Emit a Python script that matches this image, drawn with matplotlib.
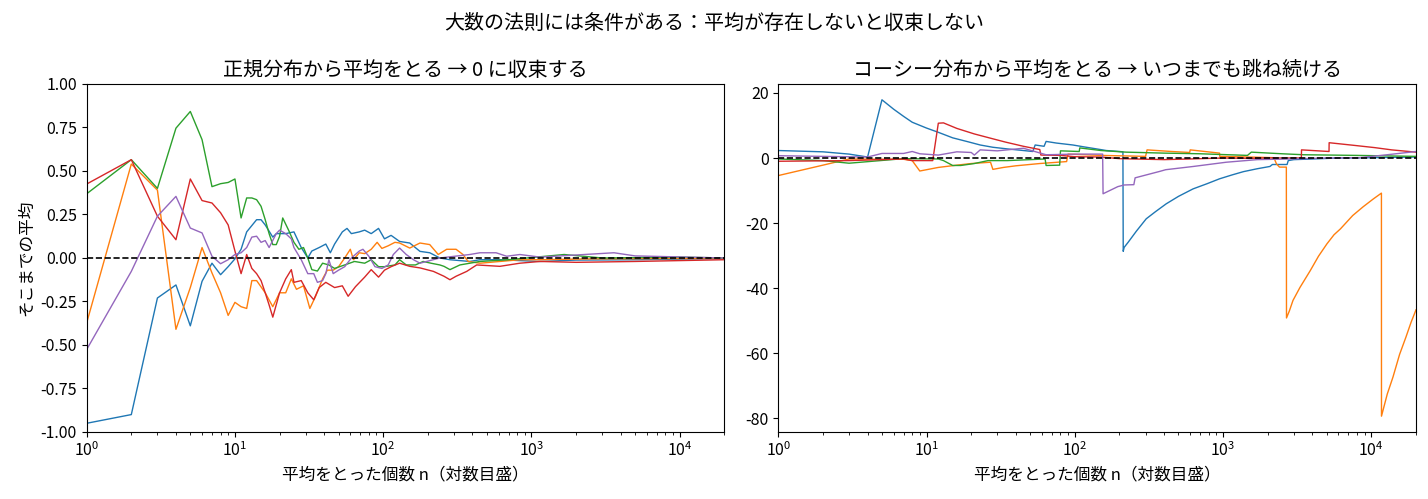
import matplotlib
matplotlib.use("Agg")
import matplotlib.pyplot as plt

plt.rcParams['font.family'] = ['Noto Sans CJK JP', 'DejaVu Sans']
plt.rcParams['axes.unicode_minus'] = False

# 正規分布：そこまでの平均
norm_blue_n = [1, 2, 3, 4, 5, 6, 7, 8, 9, 10, 11, 12, 14, 15, 16, 18, 19, 22, 25, 28, 31, 33, 37, 41,
               44, 47, 53, 57, 61, 69, 75, 83, 93, 102, 113, 129, 151, 177, 206, 241, 282, 384, 449,
               612, 1140, 2000, 5380, 20000]
norm_blue = [-0.95, -0.90, -0.23, -0.155, -0.39, -0.134, -0.03, -0.096, -0.05, -0.005, 0.05, 0.15,
             0.22, 0.22, 0.19, 0.12, 0.14, 0.14, 0.15, 0.06, 0.0, 0.04, 0.06, 0.08, 0.03, 0.08, 0.15,
             0.17, 0.14, 0.15, 0.16, 0.14, 0.17, 0.11, 0.13, 0.095, 0.086, 0.038, 0.03, 0.0, -0.01,
             -0.02, -0.01, -0.01, -0.02, -0.012, -0.01, -0.003]

norm_orange_n = [1, 2, 3, 4, 5, 6, 7, 8, 9, 10, 11, 12, 13, 14, 16, 18, 20, 22, 24, 26, 29, 32, 35,
                 39, 42, 46, 50, 55, 60, 63, 69, 75, 83, 91, 98, 108, 120, 129, 151, 177, 206, 235,
                 268, 310, 345, 374, 449, 612, 835, 1140, 2500, 20000]
norm_orange = [-0.373, 0.54, 0.39, -0.41, -0.17, 0.06, -0.086, -0.2, -0.33, -0.255, -0.28, -0.29,
               -0.13, -0.13, -0.2, -0.28, -0.2, -0.2, -0.12, -0.18, -0.16, -0.29, -0.22, -0.12, -0.07,
               -0.07, -0.05, 0.0, 0.05, -0.01, 0.03, 0.025, 0.05, 0.09, 0.055, 0.07, 0.09, 0.086,
               0.057, 0.086, 0.077, 0.02, 0.05, 0.05, 0.02, -0.02, -0.03, -0.02, -0.01, -0.01,
               -0.005, -0.002]

norm_green_n = [1, 2, 3, 4, 5, 6, 7, 8, 9, 10, 11, 12, 13, 14, 15, 16, 17, 18, 19, 20, 21, 23, 25,
                27, 29, 31, 33, 36, 39, 43, 47, 55, 64, 75, 83, 93, 102, 120, 129, 143, 165, 186,
                210, 241, 257, 282, 329, 449, 700, 1660, 3000, 10000, 20000]
norm_green = [0.369, 0.565, 0.40, 0.746, 0.842, 0.68, 0.41, 0.427, 0.434, 0.454, 0.23, 0.345, 0.345,
              0.335, 0.297, 0.22, 0.14, 0.077, 0.077, 0.124, 0.23, 0.16, 0.09, 0.05, 0.06, 0.0,
              -0.067, -0.075, -0.03, -0.04, -0.06, -0.04, -0.02, -0.03, -0.01, -0.05, -0.05, -0.04,
              -0.01, -0.04, -0.04, -0.02, -0.03, -0.04, -0.048, -0.067, -0.04, -0.02, -0.01, 0.02,
              0.0, 0.005, 0.0]

norm_red_n = [1, 2, 3, 4, 5, 6, 7, 8, 9, 10, 11, 12, 13, 14, 15, 16, 17, 18, 20, 22, 24, 25, 28, 31,
              34, 37, 41, 47, 53, 58, 65, 75, 83, 93, 102, 113, 129, 151, 177, 218, 257, 282, 310,
              366, 427, 612, 835, 1140, 2000, 5000, 20000]
norm_red = [0.425, 0.565, 0.24, 0.105, 0.454, 0.33, 0.316, 0.26, 0.19, 0.04, -0.09, 0.02, -0.06,
            -0.09, -0.13, -0.2, -0.27, -0.34, -0.2, -0.12, -0.067, -0.14, -0.13, -0.2, -0.24, -0.17,
            -0.14, -0.17, -0.16, -0.22, -0.165, -0.11, -0.067, -0.11, -0.07, -0.05, -0.03, -0.048,
            -0.057, -0.077, -0.105, -0.125, -0.105, -0.077, -0.04, -0.048, -0.03, -0.02, -0.025,
            -0.02, -0.01]

norm_purple_n = [1, 2, 3, 4, 5, 6, 7, 8, 9, 10, 11, 12, 13, 14, 15, 16, 17, 19, 20, 22, 24, 25, 28,
                 31, 34, 36, 39, 41, 43, 46, 50, 55, 61, 69, 73, 80, 88, 98, 108, 117, 129, 143,
                 160, 177, 241, 384, 449, 577, 680, 835, 1140, 3600, 5000, 20000]
norm_purple = [-0.526, -0.077, 0.24, 0.354, 0.172, 0.144, 0.01, -0.033, -0.01, 0.02, 0.03, 0.06,
               0.12, 0.125, 0.09, 0.1, 0.06, 0.14, 0.16, 0.14, 0.11, 0.06, -0.01, -0.09, -0.09,
               -0.14, -0.13, -0.09, -0.01, -0.09, -0.07, -0.05, 0.0, 0.04, 0.05, 0.01, -0.05, -0.06,
               -0.04, 0.02, 0.057, 0.02, -0.01, -0.03, 0.0, 0.02, 0.03, 0.03, 0.01, 0.02, 0.005,
               0.03, 0.012, 0.0]

# コーシー分布：そこまでの平均
cau_blue_n = [1, 2, 3, 4, 5, 6, 7, 8, 10, 12, 15, 19, 23, 28, 35, 45, 52, 54, 62, 64, 75, 97, 116,
              140, 163, 200, 211, 212, 215, 229, 260, 303, 350, 413, 500, 627, 780, 946, 1150, 1370,
              1700, 2070, 2150, 2700, 2750, 3000, 4000, 6000, 10000, 20000]
cau_blue = [2.3, 1.9, 1.2, 0.3, 17.9, 15.0, 12.8, 11.0, 9.2, 7.9, 6.2, 5.0, 4.0, 3.3, 2.8, 2.3, 2.0,
            4.0, 3.6, 5.1, 4.6, 4.0, 3.4, 2.8, 2.3, 2.0, 1.9, -28.7, -27.5, -25.9, -22.5, -18.7,
            -16.5, -14.1, -11.8, -9.5, -7.9, -6.4, -5.2, -4.2, -3.3, -2.6, -2.0, -2.0, -0.8, -0.5,
            -0.3, 0.0, 0.1, 0.3]

cau_orange_n = [1, 2, 3, 5, 7, 8, 9, 10, 12, 16, 20, 27, 28, 33, 40, 58, 88, 90, 150, 300, 307, 450,
                595, 600, 946, 950, 1500, 2200, 2290, 2400, 2670, 2676, 2800, 2960, 3300, 3875, 4400,
                5015, 5600, 6185, 7480, 8800, 10300, 11690, 11700, 12800, 13980, 15500, 17100, 18500,
                20000]
cau_orange = [-5.4, -2.2, -0.3, -0.4, -0.4, -0.8, -4.0, -3.6, -2.9, -2.2, -1.7, -1.3, -3.5, -2.9,
              -2.4, -1.7, -1.1, 1.2, 0.8, 0.5, 2.5, 2.0, 1.7, 2.5, 1.5, 0.5, 0.3, 0.1, -1.8, -2.8,
              -2.8, -49.2, -47.0, -43.8, -39.8, -34.6, -30.2, -26.4, -23.6, -21.8, -17.7, -15.0,
              -12.6, -10.8, -79.4, -72.6, -67.4, -60.4, -55.1, -50.6, -46.7]

cau_green_n = [1, 2, 3, 7, 12, 13, 15, 17, 21, 26, 35, 50, 63, 64, 79, 80, 107, 108, 150, 222, 400,
               700, 1460, 1550, 2500, 3500, 8000, 20000]
cau_green = [-0.3, -0.8, -1.6, -0.2, -0.3, -0.8, -2.3, -2.3, -1.7, -0.8, -0.8, -0.5, -0.3, -2.3,
             -2.2, 2.2, 2.0, 3.1, 2.3, 1.8, 1.5, 1.3, 0.8, 1.8, 1.3, 1.0, 0.8, 0.5]

cau_red_n = [1, 3, 7, 8, 11, 12, 13, 16, 21, 28, 34, 45, 58, 59, 80, 100, 150, 200, 250, 400, 600,
             1000, 1500, 2000, 3370, 3380, 5180, 5190, 7600, 10500, 13700, 20000]
cau_red = [-1.0, -0.8, -0.3, -0.8, -0.8, 10.7, 10.8, 9.1, 7.4, 5.9, 4.9, 3.6, 2.6, 0.9, 0.8, 0.4,
           0.3, -0.2, -0.3, -0.5, -0.3, 0.0, -0.1, 0.0, 0.0, 2.5, 2.0, 4.7, 3.9, 3.2, 2.5, 1.8]

cau_purple_n = [1, 4, 5, 7, 8, 9, 12, 16, 20, 21, 23, 30, 45, 50, 64, 100, 154, 155, 195, 215, 250,
                255, 375, 410, 630, 1050, 1700, 2850, 5000, 8350, 14000, 20000]
cau_purple = [0.7, 0.3, 1.4, 1.4, 2.0, 1.3, 0.9, 1.9, 1.7, 0.9, 2.5, 2.2, 3.0, 2.4, 1.0, 1.2, 1.2,
              -11.0, -8.8, -8.3, -8.2, -6.1, -4.1, -3.6, -2.6, -1.3, -0.5, -0.3, 0.0, 0.1, 1.2, 2.0]

N_MAX = 20000

fig, (ax1, ax2) = plt.subplots(1, 2, figsize=(14.28, 4.99), dpi=100)
fig.subplots_adjust(left=0.0607, right=0.9916, bottom=0.1343, top=0.8317, wspace=0.0846)

# 左：正規分布
ax1.plot(norm_blue_n, norm_blue, lw=1)
ax1.plot(norm_orange_n, norm_orange, lw=1)
ax1.plot(norm_green_n, norm_green, lw=1)
ax1.plot(norm_red_n, norm_red, lw=1)
ax1.plot(norm_purple_n, norm_purple, lw=1)
ax1.axhline(0, color='black', ls='--', lw=1.2)
ax1.set_xscale('log')
ax1.set_xlim(1, N_MAX)
ax1.set_ylim(-1, 1)
ax1.set_title('正規分布から平均をとる → 0 に収束する', fontsize=14.4)
ax1.set_xlabel('平均をとった個数 n（対数目盛）', fontsize=12)
ax1.set_ylabel('そこまでの平均', fontsize=12)

# 右：コーシー分布
ax2.plot(cau_blue_n, cau_blue, lw=1)
ax2.plot(cau_orange_n, cau_orange, lw=1)
ax2.plot(cau_green_n, cau_green, lw=1)
ax2.plot(cau_red_n, cau_red, lw=1)
ax2.plot(cau_purple_n, cau_purple, lw=1)
ax2.axhline(0, color='black', ls='--', lw=1.2)
ax2.set_xscale('log')
ax2.set_xlim(1, N_MAX)
ax2.set_title('コーシー分布から平均をとる → いつまでも跳ね続ける', fontsize=14.4)
ax2.set_xlabel('平均をとった個数 n（対数目盛）', fontsize=12)

for ax in (ax1, ax2):
    ax.tick_params(labelsize=11.5)

fig.suptitle('大数の法則には条件がある：平均が存在しないと収束しない', fontsize=14.4, y=0.975)

fig.savefig('out.png', dpi=100)
